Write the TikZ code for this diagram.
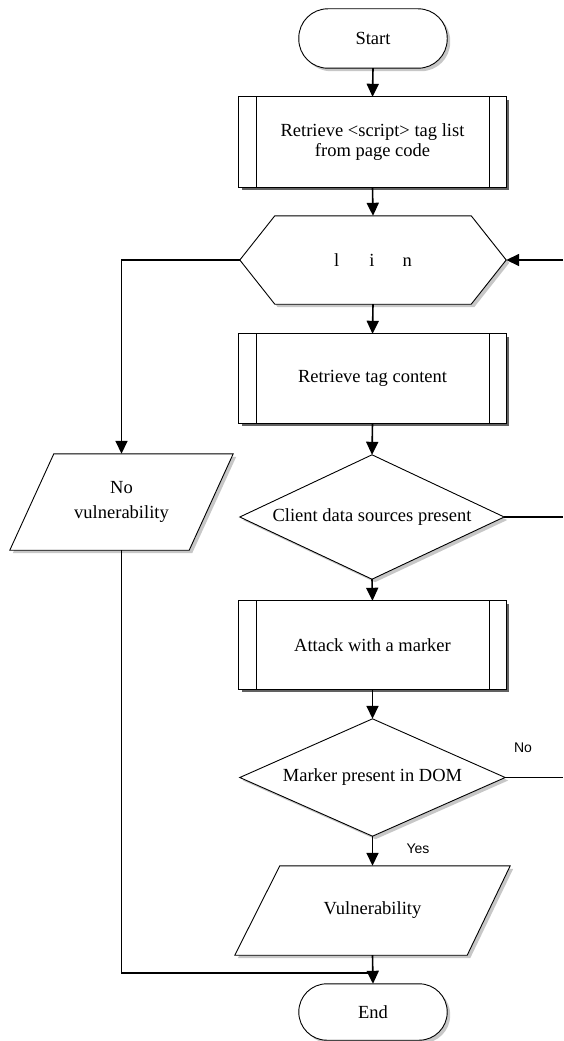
\documentclass[tikz,border=0pt]{standalone}
\usepackage{fontspec}
\setmainfont{Liberation Serif}
\newfontfamily\sanf{Liberation Sans}
\usetikzlibrary{arrows.meta,backgrounds,calc}
\tikzset{
  txt/.style={draw=none, inner sep=0pt, align=center, font=\fontsize{18.5pt}{20pt}\selectfont},
  shp/.style={draw=black, line width=0.9pt, fill=white},
  lshad/.style={preaction={fill=black!22, draw=none, transform canvas={shift={(3pt,-3pt)}}}},
  dshad/.style={preaction={fill=black!62, draw=none, transform canvas={shift={(3pt,-3pt)}}}},
  conn/.style={line width=1.6pt},
  arr/.style={line width=1.6pt, -{Triangle[length=13pt,width=12pt]}},
  lbl/.style={font=\sanf\fontsize{14pt}{16pt}\selectfont, inner sep=0pt},
}
\begin{document}
\begin{tikzpicture}[x=1pt,y=-1pt]
\useasboundingbox (0,0) rectangle (563,1041);
% nodes
\node[txt, minimum width=148pt, minimum height=59pt] (start) at (373,38.5) {Start};
\node[txt, minimum width=267pt, minimum height=90pt] (b1) at (372.5,142) {Retrieve <script> tag list\\from page code};
\node[txt, minimum width=266pt, minimum height=88pt] (hex) at (373,260) {l\hspace{30pt}i\hspace{28pt}n};
\node[txt, minimum width=267pt, minimum height=89pt] (b2) at (372.5,378.5) {Retrieve tag content};
\node[txt, minimum width=264pt, minimum height=124pt] (d1) at (372,517) {Client data sources present};
\node[txt, minimum width=223pt, minimum height=96pt, font=\fontsize{18.5pt}{25pt}\selectfont] (nov) at (121.5,502) {No\\vulnerability};
\node[txt, minimum width=267pt, minimum height=88pt] (b3) at (372.5,645) {Attack with a marker};
\node[txt, minimum width=265pt, minimum height=117pt] (d2) at (372.5,777.5) {Marker present in DOM};
\node[txt, minimum width=275pt, minimum height=89pt] (vul) at (372.5,910.5) {Vulnerability};
\node[txt, minimum width=148pt, minimum height=56pt] (end) at (373,1012) {End};
\coordinate (r1) at (563,260);
\coordinate (r2) at (563,517);
\coordinate (r3) at (563,777.5);
\coordinate (j) at (373,973);
% outlines
\begin{pgfonlayer}{background}
\draw[shp,lshad,rounded corners=29pt] (start.north west) rectangle (start.south east);
\draw[shp,lshad,rounded corners=28pt] (end.north west) rectangle (end.south east);
\foreach \b in {b1,b2,b3}{
  \draw[shp,dshad] (\b.north west) rectangle (\b.south east);
  \draw[line width=0.9pt] ([xshift=18pt]\b.north west) -- ([xshift=18pt]\b.south west);
  \draw[line width=0.9pt] ([xshift=-17pt]\b.north east) -- ([xshift=-17pt]\b.south east);
}
\draw[shp,lshad] (hex.west) -- ([xshift=35pt]hex.north west) -- ([xshift=-35pt]hex.north east) -- (hex.east) -- ([xshift=-35pt]hex.south east) -- ([xshift=35pt]hex.south west) -- cycle;
\draw[shp,lshad] (d1.north) -- (d1.east) -- (d1.south) -- (d1.west) -- cycle;
\draw[shp,lshad] (d2.north) -- (d2.east) -- (d2.south) -- (d2.west) -- cycle;
\draw[shp,lshad] ([xshift=44pt]nov.north west) -- (nov.north east) -- ([xshift=-44pt]nov.south east) -- (nov.south west) -- cycle;
\draw[shp,lshad] ([xshift=45pt]vul.north west) -- (vul.north east) -- ([xshift=-43pt]vul.south east) -- (vul.south west) -- cycle;
\end{pgfonlayer}
% connectors
\draw[arr] (start.south) -- (b1.north);
\draw[arr] (b1.south) -- (hex.north);
\draw[arr] (hex.south) -- (b2.north);
\draw[arr] (b2.south) -- (d1.north);
\draw[arr] (d1.south) -- (b3.north);
\draw[arr] (b3.south) -- (d2.north);
\draw[arr] (d2.south) -- (vul.north);
\draw[arr] (vul.south) -- (end.north);
\draw[arr] (hex.west) -| (nov.north);
\draw[conn] (nov.south) |- (j);
\draw[arr] (r1) -- (hex.east);
\draw[conn] (d1.east) -- (r2);
\draw[conn] (d2.east) -- (r3);
\node[lbl] (no) at (523,748) {No};
\node[lbl] (yes) at (418,849) {Yes};
\end{tikzpicture}
\end{document}
